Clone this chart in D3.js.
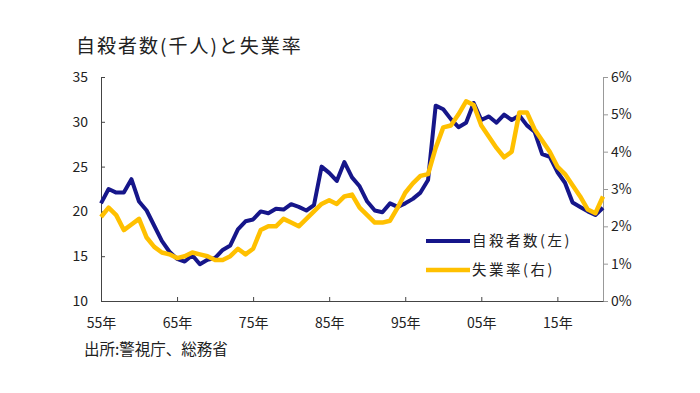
<!DOCTYPE html>
<html>
<head>
<meta charset="utf-8">
<script src="https://cdn.jsdelivr.net/npm/d3@7"></script>
<style>
  body { margin: 0; background: #fff; }
  text { font-family: "Noto Sans CJK JP", "Noto Sans", sans-serif; fill: #222; }
</style>
</head>
<body>
<div id="chart"></div>
<script>
// Years plotted (one point per year)
const years = d3.range(1954, 2021);

// Suicides (thousands), left axis
const suicides = [
  20.9, 22.5, 22.1, 22.1, 23.6, 21.1, 20.1, 18.4, 16.7, 15.5,
  14.7, 14.4, 15.1, 14.1, 14.6, 14.8, 15.7, 16.2, 18.0, 18.9,
  19.1, 20.0, 19.8, 20.3, 20.2, 20.8, 20.5, 20.1, 20.7, 25.0,
  24.3, 23.4, 25.5, 23.8, 22.8, 21.1, 20.1, 19.9, 20.9, 20.5,
  20.9, 21.4, 22.1, 23.5, 31.8, 31.4, 30.3, 29.4, 29.9, 32.1,
  30.2, 30.6, 29.9, 30.8, 30.2, 30.7, 29.6, 28.9, 26.4, 26.1,
  24.4, 23.2, 21.0, 20.5, 20.0, 19.6, 20.4
];

// Unemployment rate (%), right axis
const unemployment = [
  2.25, 2.5, 2.3, 1.9, 2.05, 2.2, 1.7, 1.45, 1.3, 1.25,
  1.15, 1.2, 1.3, 1.25, 1.2, 1.1, 1.1, 1.2, 1.4, 1.25,
  1.4, 1.9, 2.0, 2.0, 2.2, 2.1, 2.0, 2.2, 2.4, 2.6,
  2.7, 2.6, 2.8, 2.85, 2.5, 2.3, 2.1, 2.1, 2.15, 2.5,
  2.9, 3.15, 3.35, 3.4, 4.1, 4.65, 4.7, 5.0, 5.35, 5.25,
  4.7, 4.4, 4.1, 3.85, 4.0, 5.05, 5.05, 4.6, 4.3, 4.0,
  3.6, 3.4, 3.1, 2.8, 2.45, 2.35, 2.8
];

// Axis labels
const leftTicks = [10, 15, 20, 25, 30, 35];
const rightTicks = [0, 1, 2, 3, 4, 5, 6];
const xTickYears = [1954, 1964, 1974, 1984, 1994, 2004, 2014];
const xTickLabels = ["55年", "65年", "75年", "85年", "95年", "05年", "15年"];

const seriesNames = ["自殺者数(左)", "失業率(右)"];
const colors = ["#16168a", "#ffc000"];

const W = 700, H = 393;
const margin = { top: 77, right: 97, bottom: 92, left: 101 };
const width = W - margin.left - margin.right,
      height = H - margin.top - margin.bottom;

const svg = d3.select("#chart").append("svg")
    .attr("width", W)
    .attr("height", H);

const g = svg.append("g")
    .attr("transform", `translate(${margin.left},${margin.top})`);

// Scales
const x = d3.scaleLinear()
    .domain([years[0], years[years.length - 1]])
    .range([0, width]);

const yL = d3.scaleLinear().domain([10, 35]).range([height, 0]);
const yR = d3.scaleLinear().domain([0, 6]).range([height, 0]);

// Left axis
const leftAxis = g.append("g")
    .call(d3.axisLeft(yL).tickValues(leftTicks).tickSizeInner(-4).tickSizeOuter(0).tickPadding(13));
leftAxis.select(".domain").attr("stroke", "#444");
leftAxis.selectAll(".tick line").attr("stroke", "#444");
leftAxis.selectAll("text").style("font-size", "14px").attr("fill", "#222");

// Right axis
const rightAxis = g.append("g")
    .attr("transform", `translate(${width},0)`)
    .call(d3.axisRight(yR).tickValues(rightTicks).tickFormat(d => d + "%").tickSizeInner(5).tickSizeOuter(0).tickPadding(3));
rightAxis.select(".domain").attr("stroke", "#999");
rightAxis.selectAll(".tick line").attr("stroke", "#999");
rightAxis.selectAll("text").style("font-size", "14px").attr("fill", "#222");

// Bottom axis
const bottomAxis = g.append("g")
    .attr("transform", `translate(0,${height})`)
    .call(d3.axisBottom(x).tickValues(xTickYears)
        .tickFormat((d, i) => xTickLabels[i]).tickSizeInner(-4).tickSizeOuter(0).tickPadding(17));
bottomAxis.select(".domain").attr("stroke", "#444");
bottomAxis.selectAll(".tick line").attr("stroke", "#444");
bottomAxis.selectAll("text").style("font-size", "14px").attr("fill", "#222");

// Lines
const lineL = d3.line().x((d, i) => x(years[i])).y(d => yL(d));
const lineR = d3.line().x((d, i) => x(years[i])).y(d => yR(d));

g.append("path")
    .datum(suicides)
    .attr("fill", "none")
    .attr("stroke", colors[0])
    .attr("stroke-width", 4)
    .attr("stroke-linejoin", "round")
    .attr("d", lineL);

g.append("path")
    .datum(unemployment)
    .attr("fill", "none")
    .attr("stroke", colors[1])
    .attr("stroke-width", 4.5)
    .attr("stroke-linejoin", "round")
    .attr("d", lineR);

// Legend
const legend = svg.append("g").attr("transform", "translate(426,241)");
seriesNames.forEach((name, i) => {
    const row = legend.append("g").attr("transform", `translate(0,${i * 29})`);
    row.append("line")
        .attr("x1", 0).attr("x2", 44)
        .attr("stroke", colors[i])
        .attr("stroke-width", i === 0 ? 4 : 4.5);
    row.append("text")
        .attr("x", 46)
        .attr("dy", "0.35em")
        .style("font-size", "14.5px")
        .style("letter-spacing", "2.5px")
        .text(name);
});

// Title
svg.append("text")
    .attr("x", 76)
    .attr("y", 53)
    .style("font-size", "19px")
    .style("letter-spacing", "2px")
    .text("自殺者数(千人)と失業率");

// Source
svg.append("text")
    .attr("x", 84)
    .attr("y", 355)
    .style("font-size", "15.5px")
    .text("出所:警視庁、総務省");
</script>
</body>
</html>
